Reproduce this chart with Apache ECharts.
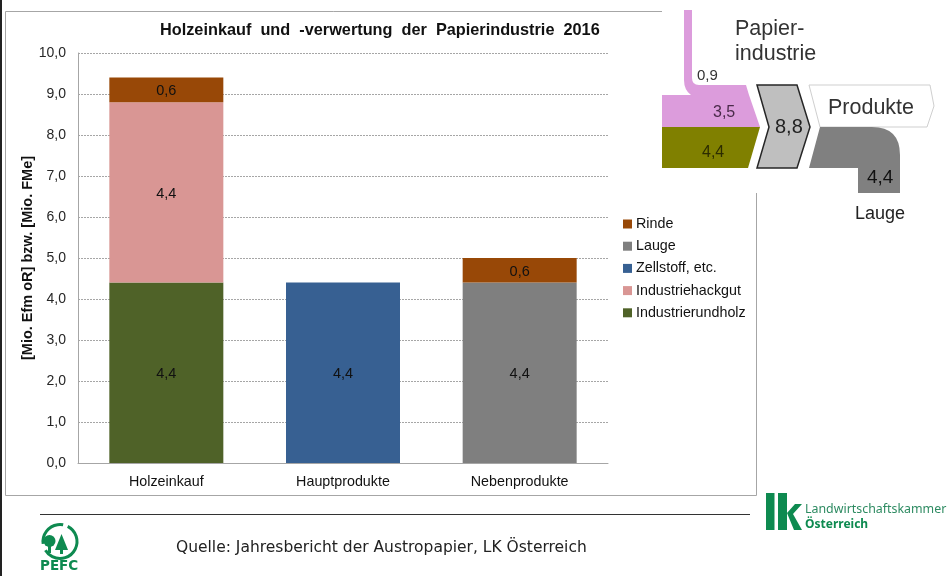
<!DOCTYPE html>
<html><head><meta charset="utf-8">
<style>html,body{margin:0;padding:0;background:#fff}#c{width:950px;height:576px}</style>
<script src="https://cdn.jsdelivr.net/npm/echarts@6/dist/echarts.min.js"></script>
</head><body><div id="c"></div>
<script>
const categories = ['Holzeinkauf','Hauptprodukte','Nebenprodukte'];
const industrierundholz = [4.4,null,null];
const industriehackgut = [4.4,null,null];
const zellstoff = [null,4.4,null];
const lauge = [null,null,4.4];
const rinde = [0.6,null,0.6];
const legendOrder = ['Rinde','Lauge','Zellstoff, etc.','Industriehackgut','Industrierundholz'];
const comma = v => v.toFixed(1).replace('.',',');
const F = 'Liberation Sans, Arial, sans-serif';
const ser = (name,data,color) => ({
  name,type:'bar',stack:'a',data,barWidth:114,
  itemStyle:{color},
  label:{show:true,position:'inside',offset:[0,1.5],fontFamily:F,fontSize:14.5,color:'#111',
    formatter:p=>comma(p.value)}
});
const txt = (x,y,text,fontSize,extra={}) => ({type:'text',x,y,z:20,style:Object.assign({text,fontSize,fontFamily:F,fill:'#262626'},extra)});
const poly = (points,fill,stroke,lineWidth) => ({type:'polygon',z:10,shape:{points},style:{fill,stroke:stroke||null,lineWidth:lineWidth||0}});
const line = (x1,y1,x2,y2,stroke,lineWidth) => ({type:'line',z:5,shape:{x1,y1,x2,y2},style:{stroke,lineWidth}});
echarts.graphic.registerShape('tubePink',echarts.graphic.extendPath('M684 10 L692 10 L692 78 Q692 85 699 85 L746 85 L749 95 L691 95 Q684 90 684 80 Z'));
echarts.graphic.registerShape('tubeGray',echarts.graphic.extendPath('M820 127 L872 127 Q900 127 900 155 L900 193 L858 193 L858 168 L809 168 Z'));
const green='#0e8a50';
const chart = echarts.init(document.getElementById('c'));
chart.setOption({
  animation:false,
  backgroundColor:'#fff',
  title:{text:'Holzeinkauf  und  -verwertung  der  Papierindustrie  2016',left:155,top:18,
    textStyle:{fontFamily:F,fontSize:16.3,fontWeight:'bold',color:'#111'}},
  grid:{left:78,right:342,top:53,bottom:113,containLabel:false},
  legend:{orient:'vertical',left:618,top:212,data:legendOrder,itemWidth:9,itemHeight:9,itemGap:8.2,
    icon:'rect',textStyle:{fontFamily:F,fontSize:14.3,color:'#111',padding:[0,0,0,-1]}},
  xAxis:{type:'category',data:categories,
    axisLine:{lineStyle:{color:'#a6a6a6',width:1}},axisTick:{show:false},
    axisLabel:{fontFamily:F,fontSize:14.3,color:'#111',margin:12}},
  yAxis:{type:'value',min:0,max:10,interval:1,
    name:'[Mio. Efm oR] bzw. [Mio. FMe]',nameLocation:'middle',nameGap:43,nameRotate:90,nameMoveOverlap:false,
    nameTextStyle:{fontFamily:F,fontSize:14.5,fontWeight:'bold',color:'#111'},
    axisLine:{show:true,lineStyle:{color:'#a6a6a6',width:1}},axisTick:{show:false},
    splitLine:{show:true,lineStyle:{color:'#a6a6a6',type:[2,1],width:1}},
    axisLabel:{fontFamily:F,fontSize:14,color:'#262626',margin:12,padding:[2,0,0,0],formatter:v=>comma(v)}},
  series:[
    ser('Industrierundholz',industrierundholz,'#4f6228'),
    ser('Industriehackgut',industriehackgut,'#d99694'),
    ser('Zellstoff, etc.',zellstoff,'#376092'),
    ser('Lauge',lauge,'#7f7f7f'),
    ser('Rinde',rinde,'#984807')
  ],
  graphic:[
    line(1,0,1,576,'#222',2),
    line(5.5,11.5,662,11.5,'#a6a6a6',1),
    line(5.5,11.5,5.5,495.5,'#a6a6a6',1),
    line(5.5,495.5,756.5,495.5,'#a6a6a6',1),
    line(756.5,193,756.5,495.5,'#a6a6a6',1),
    line(40,514.5,750,514.5,'#333',1),
    {type:'tubePink',z:10,shape:{},style:{fill:'#dc9cdc'}},
    poly([[662,95],[749,95],[760,127],[662,127]],'#dc9cdc'),
    poly([[662,127],[760,127],[748,168],[662,168]],'#808000'),
    poly([[757,85],[797,85],[810,127],[797,168],[757,168],[769,127]],'#bfbfbf','#262626',1.5),
    poly([[809,85],[930,85],[934,106],[927,127],[820,127]],'#fff','#cfcfcf',1),
    {type:'tubeGray',z:10,shape:{},style:{fill:'#808080'}},
    txt(735,18,'Papier-',21.5,{fill:'#333'}),
    txt(735,43,'industrie',21.5,{fill:'#333'}),
    txt(697,68,'0,9',15,{fill:'#333'}),
    txt(713,105,'3,5',16,{fill:'#4a2a4a'}),
    txt(702,145,'4,4',16,{fill:'#2c2c00'}),
    txt(775,117,'8,8',20,{fill:'#222'}),
    txt(828,97,'Produkte',21.5,{fill:'#333'}),
    txt(867,168,'4,4',19,{fill:'#111'}),
    txt(855,205,'Lauge',18,{fill:'#222'}),
    txt(176,540,'Quelle: Jahresbericht der Austropapier, LK Österreich',15.5,{fontFamily:'DejaVu Sans',fill:'#222'}),
    {type:'arc',z:10,shape:{cx:60,cy:541.5,r:17,startAngle:-1.1,endAngle:2.6},style:{stroke:green,lineWidth:3,fill:null}},
    {type:'arc',z:10,shape:{cx:60,cy:541.5,r:17,startAngle:3.0,endAngle:4.9},style:{stroke:green,lineWidth:3,fill:null}},
    {type:'circle',z:11,shape:{cx:49.5,cy:541,r:6},style:{fill:green}},
    {type:'rect',z:11,shape:{x:48,y:545,width:3,height:8},style:{fill:green}},
    poly([[55,550],[61.5,534],[68,550]],green),
    {type:'rect',z:11,shape:{x:60,y:549,width:3,height:5},style:{fill:green}},
    txt(40,559,'PEFC',13.5,{fontWeight:'bold',fill:green,fontFamily:'DejaVu Sans'}),
    {type:'rect',z:10,shape:{x:766,y:493,width:8.5,height:37},style:{fill:green}},
    {type:'rect',z:10,shape:{x:778,y:493,width:9,height:37},style:{fill:green}},
    poly([[787,513],[795,504],[802,504],[793,514],[802,530],[794,530]],green),
    txt(805,503,'Landwirtschaftskammer',12.4,{fill:'#2e8b62',fontFamily:'Noto Sans'}),
    txt(805,519,'Österreich',12,{fill:green,fontWeight:'bold',fontFamily:'Noto Sans'})
  ]
});
</script></body></html>
